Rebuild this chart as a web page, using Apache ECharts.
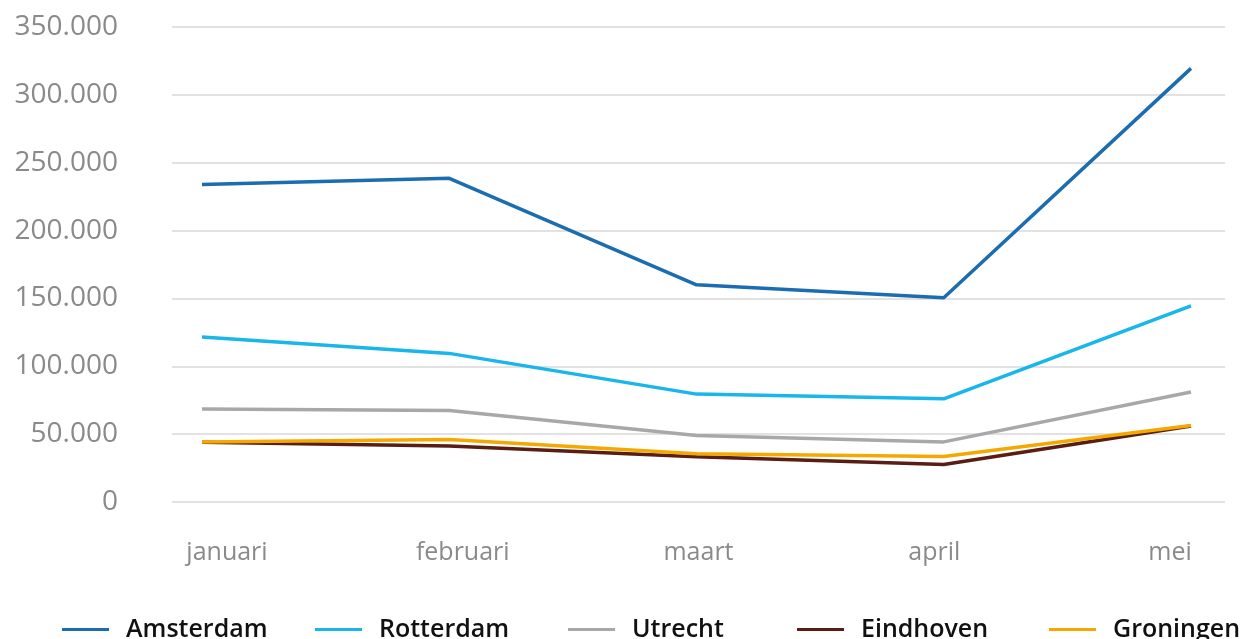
<!DOCTYPE html>
<html>
<head>
<meta charset="utf-8">
<script src="https://cdn.jsdelivr.net/npm/echarts@6/dist/echarts.min.js"></script>
<style>
html, body { margin: 0; padding: 0; background: #fff; }
#chart { width: 1253px; height: 639px; }
</style>
</head>
<body>
<div id="chart"></div>
<script>
const months = ['januari', 'februari', 'maart', 'april', 'mei'];
const cities = ['Amsterdam', 'Rotterdam', 'Utrecht', 'Eindhoven', 'Groningen'];
const amsterdam = [234000, 238500, 160000, 150500, 319500];
const rotterdam = [121500, 109500, 79500, 76000, 144500];
const utrecht = [68500, 67500, 49000, 44300, 81000];
const eindhoven = [44000, 41200, 33300, 27700, 56000];
const groningen = [44300, 46000, 35500, 33600, 56300];
const yTicks = [0, 50000, 100000, 150000, 200000, 250000, 300000, 350000];

const values = [amsterdam, rotterdam, utrecht, eindhoven, groningen];
const colors = ['#1c6db0', '#19b6ea', '#a8a8a8', '#5a1d14', '#f4a900'];
const legendLeft = [57, 310, 563, 792, 1044];

const fmt = v => v === 0 ? '0' : v.toLocaleString('de-DE');
const gridTop = 27, gridBottom = 639 - 502;
const yMax = yTicks[yTicks.length - 1];

const chart = echarts.init(document.getElementById('chart'), null, {renderer: 'canvas'});

const option = {
    animation: false,
    backgroundColor: '#ffffff',
    grid: [
        // lines
        {left: 202, right: 62, top: gridTop, bottom: gridBottom},
        // gridlines + y labels
        {left: 172, right: 28, top: gridTop, bottom: gridBottom},
        // x labels
        {left: 227, right: 83, top: gridTop, bottom: gridBottom}
    ],
    xAxis: [
        {gridIndex: 0, type: 'category', data: months, boundaryGap: false, show: false},
        {gridIndex: 1, type: 'category', data: months, boundaryGap: false, show: false},
        {
            gridIndex: 2, type: 'category', data: months, boundaryGap: false,
            axisLine: {show: false}, axisTick: {show: false},
            axisLabel: {color: '#8a8a8a', fontSize: 25, fontFamily: 'Open Sans', margin: 38}
        }
    ],
    yAxis: [
        {gridIndex: 0, type: 'value', min: 0, max: yMax, interval: 50000, show: false},
        {
            gridIndex: 1, type: 'value', min: 0, max: yMax, interval: 50000,
            axisLine: {show: false}, axisTick: {show: false},
            splitLine: {lineStyle: {color: '#e2e2e2', width: 2}},
            axisLabel: {color: '#8a8a8a', fontSize: 28, fontFamily: 'Open Sans', margin: 54, formatter: fmt}
        },
        {gridIndex: 2, type: 'value', min: 0, max: yMax, interval: 50000, show: false}
    ],
    legend: cities.map((name, i) => ({
        data: [name],
        left: legendLeft[i],
        top: 612,
        icon: 'rect',
        itemWidth: 47,
        itemHeight: 3,
        textStyle: {
            color: '#111', fontSize: 25, fontWeight: 600, fontFamily: 'Open Sans',
            padding: [0, 0, 0, 12]
        }
    })),
    series: cities.map((name, i) => ({
        name: name,
        type: 'line',
        xAxisIndex: 0,
        yAxisIndex: 0,
        data: values[i],
        showSymbol: false,
        symbol: 'none',
        color: colors[i],
        lineStyle: {width: 3.5, color: colors[i]}
    }))
};
chart.setOption(option);
</script>
</body>
</html>
